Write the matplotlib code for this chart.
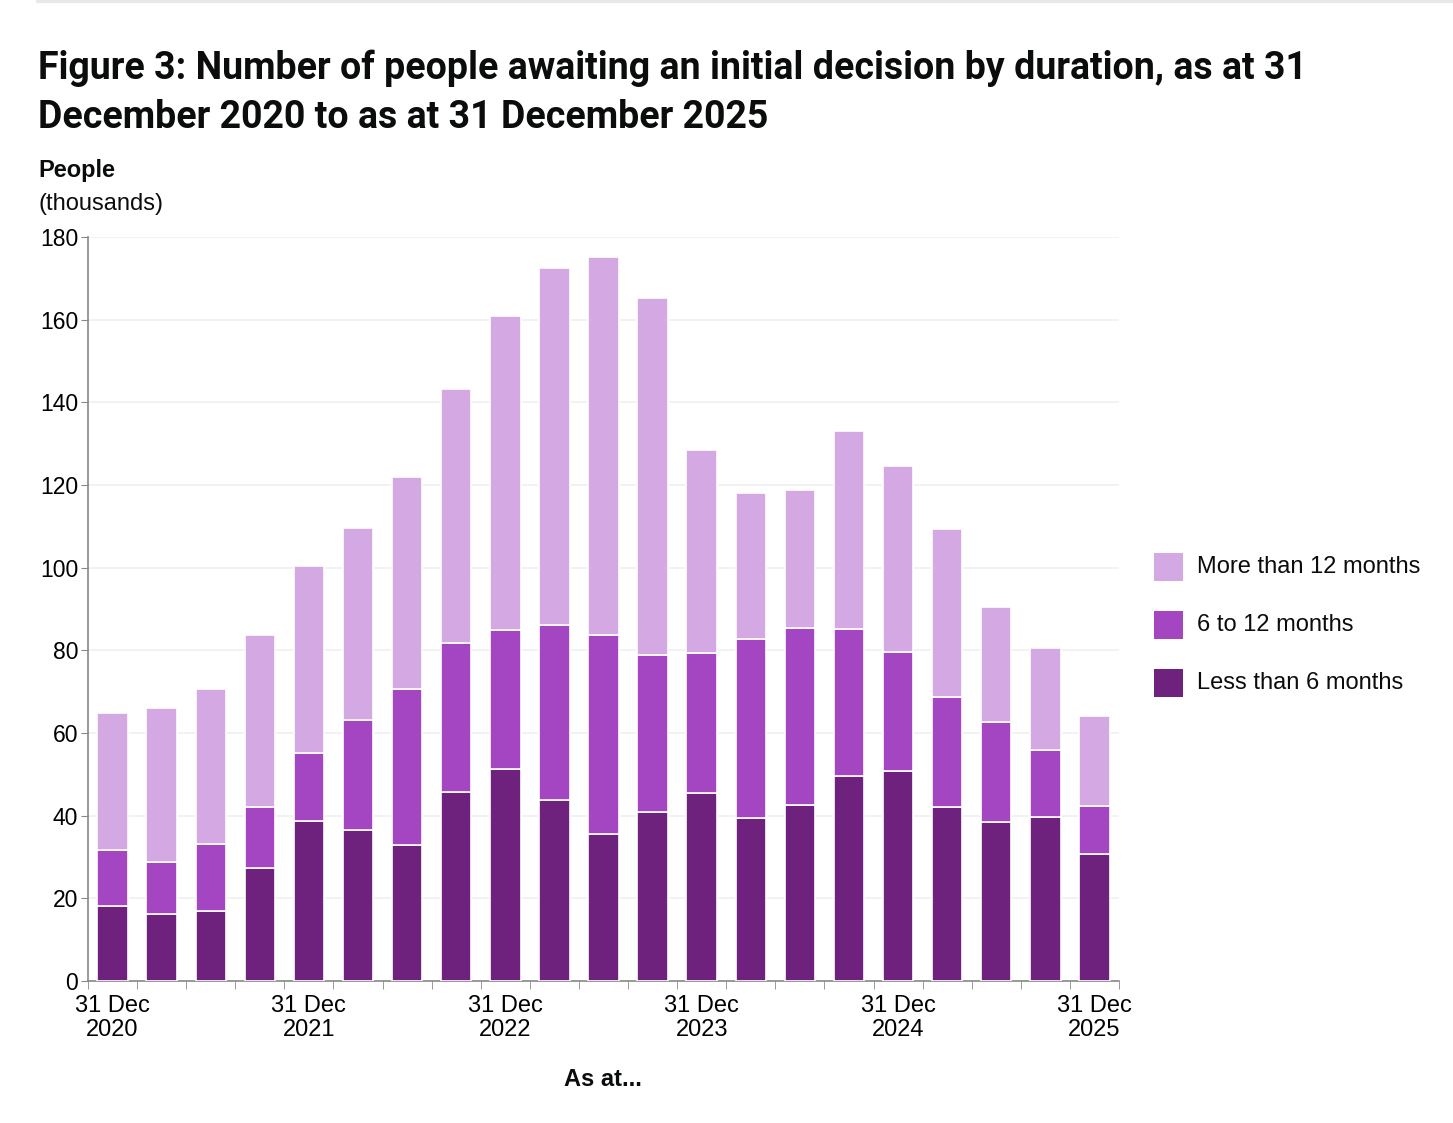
import numpy as np
import matplotlib
matplotlib.use("Agg")
import matplotlib.pyplot as plt
from matplotlib.patches import Rectangle

# quarterly snapshots, 31 Dec 2020 .. 31 Dec 2025 (thousands)
quarters = ["Dec 2020", "Mar 2021", "Jun 2021", "Sep 2021", "Dec 2021",
            "Mar 2022", "Jun 2022", "Sep 2022", "Dec 2022", "Mar 2023",
            "Jun 2023", "Sep 2023", "Dec 2023", "Mar 2024", "Jun 2024",
            "Sep 2024", "Dec 2024", "Mar 2025", "Jun 2025", "Sep 2025",
            "Dec 2025"]
total = [64.8, 66.0, 70.6, 83.7, 100.4, 109.6, 121.9, 143.2, 160.9, 172.5,
         175.2, 165.3, 128.5, 118.1, 118.8, 133.1, 124.6, 109.4, 90.5, 80.6,
         64.1]
under_12 = [31.7, 28.8, 33.1, 42.1, 55.2, 63.2, 70.6, 81.8, 84.9, 86.1,
            83.7, 78.9, 79.4, 82.7, 85.4, 85.2, 79.6, 68.7, 62.7, 55.9, 42.3]
less_6 = [18.1, 16.2, 16.9, 27.3, 38.7, 36.5, 32.9, 45.7, 51.3, 43.8,
          35.6, 40.9, 45.5, 39.4, 42.6, 49.6, 50.8, 42.1, 38.5, 39.7, 30.7]

tick_labels = ["31 Dec\n2020", "31 Dec\n2021", "31 Dec\n2022",
               "31 Dec\n2023", "31 Dec\n2024", "31 Dec\n2025"]
series_names = ["More than 12 months", "6 to 12 months", "Less than 6 months"]
colors = ["#d4a8e2", "#a445c1", "#6f217e"]

total = np.array(total)
under_12 = np.array(under_12)
less_6 = np.array(less_6)
six_to_12 = under_12 - less_6
over_12 = total - under_12

W, H = 1453, 1123
fig = plt.figure(figsize=(W / 100, H / 100), dpi=100)
plt.rcParams['font.family'] = ['Liberation Sans', 'DejaVu Sans']

# thin rule at the very top
fig.add_artist(plt.Line2D([38 / W, 1453 / W], [1 - 1 / H, 1 - 1 / H],
                          color="#e8e8e8", linewidth=3))

fig.text(38 / W, 1 - 68 / H,
         "Figure 3: Number of people awaiting an initial decision by duration, as at 31",
         fontsize=27, fontweight="bold", family="Roboto", va="center", color="#0b0c0c")
fig.text(38 / W, 1 - 118 / H, "December 2020 to as at 31 December 2025",
         fontsize=27, fontweight="bold", family="Roboto", va="center", color="#0b0c0c")
fig.text(38 / W, 1 - 171 / H, "People", fontsize=17, fontweight="bold",
         va="center", color="#0b0c0c")
fig.text(38 / W, 1 - 204 / H, "(thousands)", fontsize=17, va="center", color="#0b0c0c")

ax = fig.add_axes([88 / W, (H - 981) / H, 1031 / W, 744 / H])
x = np.arange(len(quarters))
bw = 0.62
ax.bar(x, less_6, bw, color=colors[2], edgecolor="white", linewidth=1.2, zorder=3)
ax.bar(x, six_to_12, bw, bottom=less_6, color=colors[1], edgecolor="white",
       linewidth=1.2, zorder=3)
ax.bar(x, over_12, bw, bottom=under_12, color=colors[0], edgecolor="white",
       linewidth=1.2, zorder=3)

ax.set_xlim(-0.5, len(quarters) - 0.5)
ax.set_ylim(0, 180)
ax.set_yticks(np.arange(0, 181, 20))
ax.tick_params(axis="y", labelsize=16.5, length=5, color="#888888", pad=2)
ax.yaxis.grid(True, color="#f0f0f0", linewidth=1.2, zorder=0)

ax.set_xticks(x[::4])
ax.set_xticklabels(tick_labels, fontsize=17, linespacing=1.1)
ax.tick_params(axis="x", which="major", length=0, pad=10)
ax.set_xticks(np.arange(-0.5, len(quarters), 1), minor=True)
ax.tick_params(axis="x", which="minor", length=6, color="#888888")

for side in ["top", "right"]:
    ax.spines[side].set_visible(False)
for side in ["left", "bottom"]:
    ax.spines[side].set_color("#888888")
    ax.spines[side].set_linewidth(1.2)

fig.text(603 / W, 1 - 1080 / H, "As at...", fontsize=17, fontweight="bold",
         ha="center", va="center", color="#0b0c0c")

# legend
for i, name in enumerate(series_names):
    yc = 567 + i * 58
    fig.add_artist(Rectangle((1154 / W, 1 - (yc + 14) / H), 29 / W, 28 / H,
                             facecolor=colors[i], edgecolor="none",
                             transform=fig.transFigure))
    fig.text(1197 / W, 1 - yc / H, name, fontsize=17, va="center", color="#0b0c0c")

fig.savefig("out.png", dpi=100, facecolor="white")
